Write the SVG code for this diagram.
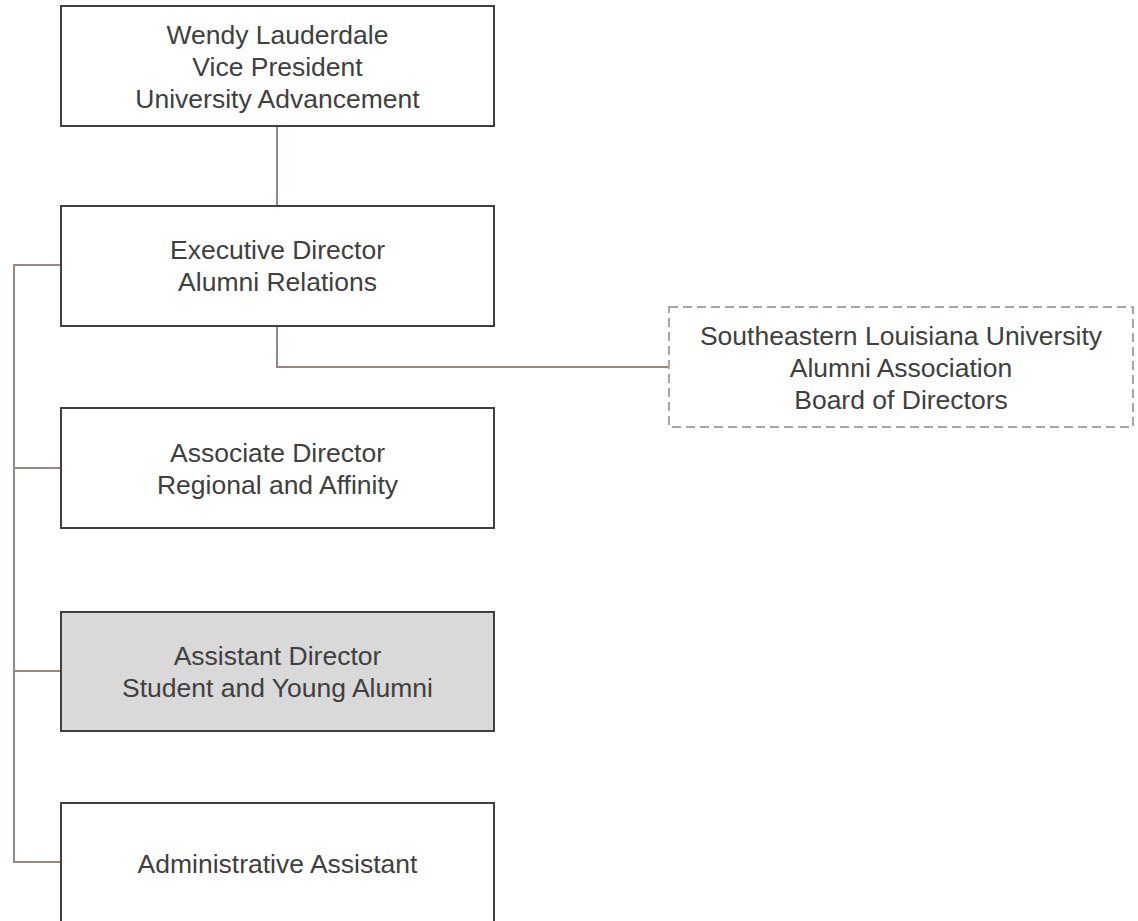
<svg xmlns="http://www.w3.org/2000/svg" width="1138" height="921" viewBox="0 0 1138 921">
  <style>
    .box { fill: #ffffff; stroke: #404040; stroke-width: 2; }
    .box.shaded { fill: #d9d9d9; }
    .board { fill: #ffffff; stroke: #a6a6a6; stroke-width: 2; stroke-dasharray: 9 5; }
    .link { fill: none; stroke: #958a82; stroke-width: 2; }
    text { font-family: "Liberation Sans", Arial, sans-serif; font-size: 26.5px; fill: #404040; text-anchor: middle; }
  </style>
  <rect width="1138" height="921" fill="#ffffff"/>

  <!-- reporting lines -->
  <g id="connectors">
    <path class="link" d="M277 126 V206"/>
    <path class="link" d="M277 326 V367 H669"/>
    <path class="link" d="M61 265 H14 V862 H61"/>
    <path class="link" d="M14 468 H61"/>
    <path class="link" d="M14 671 H61"/>
  </g>

  <g id="vp">
    <rect class="box" x="61" y="6" width="433" height="120"/>
    <text x="277.5" y="44">Wendy Lauderdale</text>
    <text x="277.5" y="76">Vice President</text>
    <text x="277.5" y="107.5">University Advancement</text>
  </g>

  <g id="executive-director">
    <rect class="box" x="61" y="206" width="433" height="120"/>
    <text x="277.5" y="259">Executive Director</text>
    <text x="277.5" y="291">Alumni Relations</text>
  </g>

  <g id="alumni-board">
    <rect class="board" x="669" y="307" width="464" height="120"/>
    <text x="901" y="345">Southeastern Louisiana University</text>
    <text x="901" y="377">Alumni Association</text>
    <text x="901" y="408.5">Board of Directors</text>
  </g>

  <g id="associate-director">
    <rect class="box" x="61" y="408" width="433" height="120"/>
    <text x="277.5" y="462">Associate Director</text>
    <text x="277.5" y="494">Regional and Affinity</text>
  </g>

  <g id="assistant-director">
    <rect class="box shaded" x="61" y="612" width="433" height="119"/>
    <text x="277.5" y="665">Assistant Director</text>
    <text x="277.5" y="697">Student and Young Alumni</text>
  </g>

  <g id="administrative-assistant">
    <rect class="box" x="61" y="803" width="433" height="120"/>
    <text x="277.5" y="873">Administrative Assistant</text>
  </g>
</svg>
